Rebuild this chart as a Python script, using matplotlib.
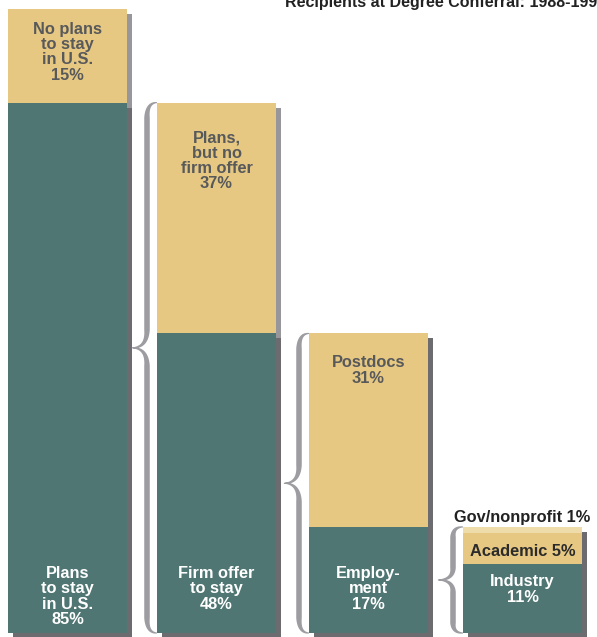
import numpy as np
import matplotlib
matplotlib.use('Agg')
import matplotlib.pyplot as plt
from matplotlib.patches import Rectangle, Polygon

plt.rcParams['font.family'] = ['Liberation Sans', 'DejaVu Sans']

# data (percent of recipients)
stay_values = [85, 15]            # plans to stay, no plans
stay_labels = ['Plans\nto stay\nin U.S.\n85%', 'No plans\nto stay\nin U.S.\n15%']
offer_values = [48, 37]           # firm offer, plans but no firm offer
offer_labels = ['Firm offer\nto stay\n48%', 'Plans,\nbut no\nfirm offer\n37%']
employ_values = [17, 31]          # employment, postdocs
employ_labels = ['Employ-\nment\n17%', 'Postdocs\n31%']
sector_values = [11, 5, 1]        # industry, academic, gov/nonprofit
sector_labels = ['Industry\n11%', 'Academic 5%', 'Gov/nonprofit 1%']
title = 'Recipients at Degree Conferral: 1988-199'

# colours
TEAL = '#4f7673'
TAN = '#e6c882'
LIGHT_TAN = '#eedcaa'
DARK_TXT = '#58595b'
BRACE = '#9c9ca1'

# layout (pixels)
K = 6.24                      # pixels per percent
bar_left = [8, 157, 309, 463]
bar_w = 119
shadow_dx, shadow_dy = 5, 5 / K

fig = plt.figure(figsize=(5.97, 6.37), dpi=100)
ax = fig.add_axes([0, 0, 1, 1])
ax.set_xlim(0, 597)
ax.set_ylim(-4 / K, 100 + 9 / K)
ax.axis('off')


def stacked_bar(x, values, colors, shadows):
    bottom = 0
    for v, c, s in zip(values, colors, shadows):
        ax.add_patch(Rectangle((x + shadow_dx, bottom - shadow_dy), bar_w, v,
                               color=s, zorder=1, lw=0))
        bottom += v
    bottom = 0
    for v, c in zip(values, colors):
        ax.add_patch(Rectangle((x, bottom), bar_w, v, color=c, zorder=2, lw=0))
        bottom += v


def quad(p0, c, p1, n=40):
    t = np.linspace(0, 1, n)[:, None]
    return (1 - t) ** 2 * np.array(p0) + 2 * (1 - t) * t * np.array(c) + t ** 2 * np.array(p1)


def brace(x_end, y_lo, y_hi, y_mid, r_end=15, r_tip=18, w_max=5.5, w_min=1.0):
    x_v = x_end - 10
    x_tip = x_end - 25
    Yl, Yh, Ym = y_lo * K, y_hi * K, y_mid * K
    segs = [
        (quad((x_end, Yh), (x_v, Yh), (x_v, Yh - r_end)), np.linspace(0, 1, 40)),
        (quad((x_v, Yh - r_end), (x_v, (Yh + Ym) / 2), (x_v, Ym + r_tip)), np.ones(40)),
        (quad((x_v, Ym + r_tip), (x_v, Ym), (x_tip, Ym)), np.linspace(1, 0, 40)),
        (quad((x_tip, Ym), (x_v, Ym), (x_v, Ym - r_tip)), np.linspace(0, 1, 40)),
        (quad((x_v, Ym - r_tip), (x_v, (Ym + Yl) / 2), (x_v, Yl + r_end)), np.ones(40)),
        (quad((x_v, Yl + r_end), (x_v, Yl), (x_end, Yl)), np.linspace(1, 0, 40)),
    ]
    pts = [segs[0][0]]
    fs = [segs[0][1]]
    for p, f in segs[1:]:
        pts.append(p[1:])
        fs.append(f[1:])
    pts = np.vstack(pts)
    f = np.concatenate(fs)
    d = np.gradient(pts, axis=0)
    d /= np.linalg.norm(d, axis=1)[:, None]
    nrm = np.column_stack([-d[:, 1], d[:, 0]])
    w = (w_min + (w_max - w_min) * f)[:, None] / 2
    poly = np.vstack([pts + nrm * w, (pts - nrm * w)[::-1]])
    poly[:, 1] /= K
    ax.add_patch(Polygon(poly, closed=True, color=BRACE, lw=0, zorder=3))


# bars
stacked_bar(bar_left[0], stay_values, [TEAL, TAN], ['#6c6c70', '#96969b'])
stacked_bar(bar_left[1], offer_values, [TEAL, TAN], ['#6c6c70', '#96969b'])
stacked_bar(bar_left[2], employ_values, [TEAL, TAN], ['#6c6c70', '#6c6c70'])
stacked_bar(bar_left[3], sector_values, [TEAL, TAN, LIGHT_TAN], ['#6c6c70'] * 3)

# braces
brace(bar_left[1], 0, sum(offer_values), 45.7)
brace(bar_left[2], 0, sum(employ_values), sum(employ_values) / 2)
brace(bar_left[3], 0, sum(sector_values), sum(sector_values) / 2, r_end=10, r_tip=12)

fs = 11.8
kw = dict(ha='center', va='top', fontsize=fs, fontweight='bold', linespacing=1.02, zorder=4)
low = 10.7   # top of bottom labels (percent units)

# bottom (teal) labels
for x, lab in zip(bar_left[:3], [stay_labels[0], offer_labels[0], employ_labels[0]]):
    ax.text(x + bar_w / 2, low, lab, color='white', **kw)
ax.text(bar_left[3] + bar_w / 2, sector_values[0] - 1.6, sector_labels[0], color='white', **kw)

# top (tan) labels
tops = [sum(stay_values), sum(offer_values), sum(employ_values)]
offs = [13, 28, 22]
for x, t, o, lab in zip(bar_left[:3], tops, offs,
                        [stay_labels[1], offer_labels[1], employ_labels[1]]):
    ax.text(x + bar_w / 2, t - o / K, lab, color=DARK_TXT, **kw)

ax.text(bar_left[3] + bar_w / 2, sector_values[0] + sector_values[1] / 2 - 0.4, sector_labels[1],
        ha='center', va='center', fontsize=fs, fontweight='bold', color='#2b2b2b', zorder=4)
ax.text(bar_left[3] + bar_w / 2, sum(sector_values) + 0.3, sector_labels[2],
        ha='center', va='bottom', fontsize=fs, fontweight='bold', color='#222222', zorder=4)

# title, cut at the right edge as in the source
ax.text(597, 100 + 1.5 / K, title, ha='right', va='baseline', fontsize=11.5,
        fontweight='bold', color='#222222')

fig.savefig('out.png', dpi=100)
